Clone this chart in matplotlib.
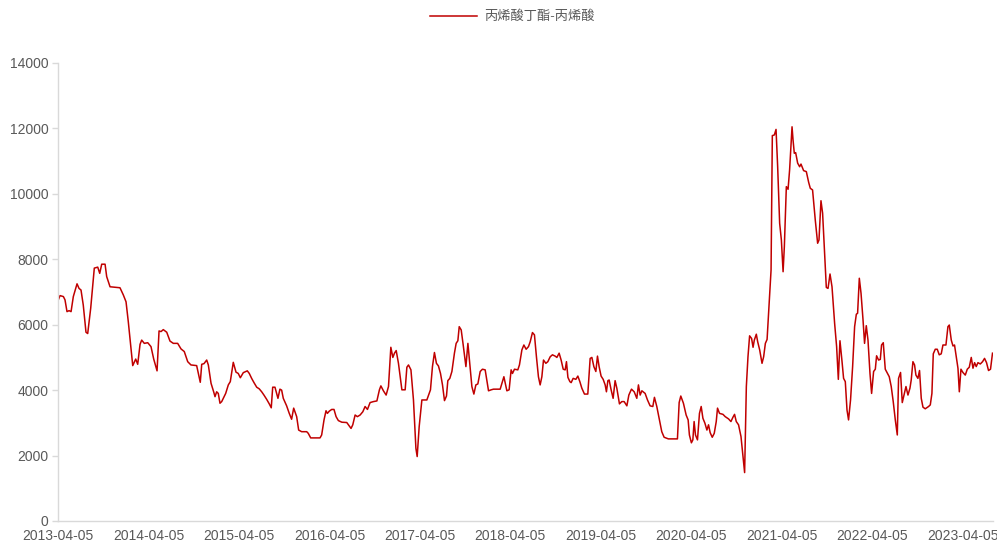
import matplotlib
matplotlib.use("Agg")
import matplotlib.pyplot as plt
import pandas as pd
import numpy as np

# Decimal-year positions of observations and the spread value (丙烯酸丁酯-丙烯酸)
years = [
 2013.261, 2013.280, 2013.317, 2013.335, 2013.357, 2013.380, 2013.402, 2013.427, 2013.468, 2013.490,
 2013.512, 2013.537, 2013.567, 2013.586, 2013.619, 2013.659, 2013.697, 2013.719, 2013.741, 2013.778,
 2013.796, 2013.833, 2013.943, 2013.980, 2014.010, 2014.035, 2014.084, 2014.117, 2014.139, 2014.165,
 2014.183, 2014.212, 2014.250, 2014.286, 2014.316, 2014.353, 2014.375, 2014.397, 2014.422, 2014.460,
 2014.496, 2014.533, 2014.581, 2014.618, 2014.654, 2014.692, 2014.728, 2014.791, 2014.831, 2014.847,
 2014.872, 2014.902, 2014.920, 2014.950, 2014.979, 2014.994, 2015.012, 2015.030, 2015.049, 2015.068,
 2015.086, 2015.112, 2015.141, 2015.163, 2015.196, 2015.226, 2015.251, 2015.274, 2015.307, 2015.351,
 2015.373, 2015.399, 2015.425, 2015.455, 2015.483, 2015.510, 2015.535, 2015.565, 2015.594, 2015.616,
 2015.632, 2015.657, 2015.690, 2015.712, 2015.731, 2015.749, 2015.786, 2015.815, 2015.841, 2015.864,
 2015.897, 2015.919, 2015.952, 2016.008, 2016.025, 2016.052, 2016.155, 2016.173, 2016.199, 2016.221,
 2016.236, 2016.258, 2016.284, 2016.309, 2016.332, 2016.357, 2016.395, 2016.450, 2016.479, 2016.497,
 2016.516, 2016.542, 2016.567, 2016.597, 2016.627, 2016.652, 2016.678, 2016.707, 2016.744, 2016.782,
 2016.810, 2016.826, 2016.854, 2016.884, 2016.910, 2016.936, 2016.958, 2016.976, 2016.995, 2017.020,
 2017.058, 2017.094, 2017.113, 2017.131, 2017.158, 2017.186, 2017.213, 2017.227, 2017.249, 2017.279,
 2017.334, 2017.374, 2017.396, 2017.418, 2017.440, 2017.462, 2017.485, 2017.507, 2017.529, 2017.551,
 2017.566, 2017.588, 2017.611, 2017.639, 2017.658, 2017.677, 2017.692, 2017.714, 2017.736, 2017.766,
 2017.788, 2017.810, 2017.832, 2017.854, 2017.876, 2017.898, 2017.924, 2017.949, 2017.979, 2018.016,
 2018.045, 2018.071, 2018.145, 2018.164, 2018.186, 2018.219, 2018.244, 2018.266, 2018.281, 2018.303,
 2018.340, 2018.358, 2018.385, 2018.407, 2018.432, 2018.458, 2018.477, 2018.502, 2018.524, 2018.546,
 2018.568, 2018.587, 2018.606, 2018.624, 2018.650, 2018.672, 2018.698, 2018.723, 2018.753, 2018.772,
 2018.797, 2018.819, 2018.842, 2018.864, 2018.878, 2018.894, 2018.916, 2018.930, 2018.952, 2018.982,
 2019.004, 2019.026, 2019.048, 2019.077, 2019.114, 2019.140, 2019.159, 2019.181, 2019.203, 2019.221,
 2019.239, 2019.261, 2019.284, 2019.306, 2019.320, 2019.336, 2019.350, 2019.372, 2019.394, 2019.416,
 2019.435, 2019.464, 2019.490, 2019.516, 2019.546, 2019.568, 2019.597, 2019.627, 2019.656, 2019.674,
 2019.693, 2019.712, 2019.748, 2019.774, 2019.803, 2019.833, 2019.851, 2019.877, 2019.906, 2019.932,
 2019.958, 2020.005, 2020.105, 2020.124, 2020.142, 2020.171, 2020.201, 2020.223, 2020.237, 2020.259,
 2020.275, 2020.289, 2020.304, 2020.326, 2020.348, 2020.367, 2020.386, 2020.408, 2020.430, 2020.448,
 2020.466, 2020.489, 2020.511, 2020.533, 2020.547, 2020.569, 2020.607, 2020.632, 2020.669, 2020.695,
 2020.717, 2020.735, 2020.754, 2020.779, 2020.806, 2020.828, 2020.846, 2020.865, 2020.883, 2020.901,
 2020.923, 2020.939, 2020.953, 2020.975, 2020.990, 2021.012, 2021.038, 2021.056, 2021.075, 2021.094,
 2021.111, 2021.138, 2021.152, 2021.174, 2021.193, 2021.211, 2021.233, 2021.252, 2021.271, 2021.285,
 2021.307, 2021.326, 2021.343, 2021.370, 2021.381, 2021.395, 2021.410, 2021.432, 2021.454, 2021.469,
 2021.498, 2021.528, 2021.554, 2021.572, 2021.597, 2021.627, 2021.653, 2021.668, 2021.690, 2021.708,
 2021.730, 2021.749, 2021.768, 2021.790, 2021.812, 2021.841, 2021.863, 2021.882, 2021.900, 2021.923,
 2021.940, 2021.959, 2021.978, 2021.995, 2022.017, 2022.040, 2022.062, 2022.081, 2022.095, 2022.114,
 2022.133, 2022.155, 2022.172, 2022.191, 2022.210, 2022.232, 2022.250, 2022.272, 2022.291, 2022.305,
 2022.327, 2022.346, 2022.360, 2022.379, 2022.401, 2022.420, 2022.445, 2022.467, 2022.489, 2022.512,
 2022.534, 2022.548, 2022.570, 2022.589, 2022.608, 2022.630, 2022.652, 2022.674, 2022.688, 2022.707,
 2022.725, 2022.740, 2022.762, 2022.780, 2022.799, 2022.818, 2022.843, 2022.880, 2022.899, 2022.917,
 2022.932, 2022.954, 2022.976, 2022.998, 2023.020, 2023.039, 2023.072, 2023.094, 2023.109, 2023.131,
 2023.150, 2023.167, 2023.186, 2023.205, 2023.220, 2023.238, 2023.260, 2023.286, 2023.308, 2023.330,
 2023.352, 2023.371, 2023.389, 2023.407, 2023.426, 2023.452, 2023.477, 2023.499, 2023.521, 2023.543,
 2023.565, 2023.587,
]

spread = [
 6760, 6890, 6860, 6760, 6400, 6430, 6400, 6860, 7250, 7110,
 7060, 6600, 5770, 5730, 6500, 7730, 7760, 7570, 7850, 7850,
 7470, 7160, 7130, 6910, 6700, 6090, 4750, 4950, 4790, 5400,
 5530, 5430, 5450, 5330, 4950, 4590, 5810, 5790, 5850, 5770,
 5500, 5430, 5430, 5260, 5180, 4870, 4770, 4750, 4240, 4790,
 4810, 4920, 4770, 4210, 3950, 3800, 3950, 3900, 3600, 3650,
 3750, 3900, 4160, 4260, 4850, 4550, 4510, 4380, 4535, 4590,
 4510, 4360, 4230, 4090, 4040, 3950, 3850, 3720, 3580, 3460,
 4090, 4090, 3750, 4030, 4000, 3750, 3520, 3290, 3110, 3450,
 3190, 2780, 2730, 2730, 2680, 2540, 2540, 2630, 3090, 3370,
 3290, 3360, 3410, 3410, 3190, 3070, 3020, 3010, 2900, 2830,
 2940, 3240, 3190, 3240, 3340, 3500, 3410, 3620, 3650, 3670,
 4010, 4130, 3980, 3850, 4110, 5310, 5000, 5130, 5210, 4820,
 4010, 4010, 4700, 4770, 4620, 3700, 2220, 1970, 2880, 3700,
 3700, 4010, 4720, 5150, 4820, 4740, 4510, 4160, 3680, 3820,
 4290, 4360, 4570, 5130, 5430, 5510, 5940, 5840, 5380, 4720,
 5430, 4770, 4110, 3880, 4160, 4190, 4570, 4640, 4620, 3980,
 4010, 4030, 4030, 4210, 4410, 3980, 4010, 4620, 4510, 4640,
 4620, 4770, 5230, 5380, 5250, 5330, 5480, 5760, 5690, 5020,
 4410, 4160, 4410, 4920, 4820, 4870, 5020, 5080, 5040, 5000,
 5130, 4920, 4640, 4620, 4870, 4390, 4260, 4230, 4360, 4330,
 4430, 4260, 4060, 3880, 3880, 4970, 5000, 4720, 4570, 5040,
 4720, 4430, 4330, 4160, 3950, 4290, 4310, 4010, 3750, 4290,
 4060, 3580, 3650, 3650, 3520, 3850, 4030, 3950, 3750, 4160,
 3850, 3980, 3900, 3700, 3520, 3500, 3780, 3500, 3090, 2730,
 2560, 2510, 2510, 3620, 3820, 3600, 3240, 3090, 2630, 2390,
 2480, 3040, 2630, 2480, 3290, 3500, 3140, 2990, 2780, 2940,
 2700, 2560, 2680, 3040, 3450, 3290, 3260, 3190, 3120, 3040,
 3170, 3260, 3040, 2940, 2580, 1970, 1480, 4110, 5020, 5660,
 5580, 5310, 5530, 5710, 5480, 5230, 4820, 5020, 5430, 5550,
 6350, 7670, 11780, 11800, 11970, 10830, 9100, 8590, 7620, 8390,
 10220, 10140, 10730, 12050, 11650, 11240, 11260, 10940, 10830, 10910,
 10710, 10680, 10350, 10170, 10120, 9200, 8490, 8590, 9790, 9410,
 8180, 7140, 7110, 7550, 7160, 6040, 5330, 4330, 5510, 4870,
 4360, 4260, 3390, 3090, 3700, 4720, 5940, 6320, 6350, 7420,
 6960, 6150, 5430, 5970, 5530, 4510, 3900, 4570, 4640, 5050,
 4920, 4940, 5380, 5450, 4640, 4540, 4410, 4110, 3650, 3090,
 2630, 4360, 4540, 3620, 3850, 4110, 3850, 4060, 4310, 4870,
 4770, 4460, 4360, 4600, 3750, 3480, 3430, 3500, 3550, 3900,
 5110, 5250, 5250, 5080, 5110, 5380, 5380, 5940, 5990, 5530,
 5350, 5380, 5020, 4670, 3950, 4640, 4540, 4460, 4640, 4700,
 5000, 4670, 4840, 4720, 4840, 4800, 4870, 4970, 4840, 4600,
 4640, 5130,
]

tick_labels = ["2013-04-05", "2014-04-05", "2015-04-05", "2016-04-05", "2017-04-05",
               "2018-04-05", "2019-04-05", "2020-04-05", "2021-04-05", "2022-04-05",
               "2023-04-05"]
y_ticks = [0, 2000, 4000, 6000, 8000, 10000, 12000, 14000]
series_name = "丙烯酸丁酯-丙烯酸"


def to_date(y):
    yr = int(y)
    start = pd.Timestamp(yr, 1, 1)
    n = (pd.Timestamp(yr + 1, 1, 1) - start).days
    return start + pd.Timedelta(days=(y - yr) * n)


dates = [to_date(y) for y in years]
tick_dates = [pd.Timestamp(s) for s in tick_labels]

plt.rcParams['font.family'] = ['Liberation Sans', 'Noto Sans CJK SC', 'DejaVu Sans']

fig = plt.figure(figsize=(9.97, 5.43), dpi=100)
ax = fig.add_axes([58 / 997, 1 - 521 / 543, (993 - 58) / 997, (521 - 63) / 543])

line, = ax.plot(dates, spread, color="#C00000", linewidth=1.1, label=series_name)

ax.set_ylim(0, 14000)
ax.set_yticks(y_ticks)
ax.set_yticklabels([str(v) for v in y_ticks])
ax.set_xlim(tick_dates[0], dates[-1] + pd.Timedelta(days=2))
ax.set_xticks(tick_dates)
ax.set_xticklabels(tick_labels)

for s in ["top", "right"]:
    ax.spines[s].set_visible(False)
ax.spines["left"].set_color("#d9d9d9")
ax.spines["bottom"].set_color("#d9d9d9")
ax.spines["left"].set_linewidth(1.0)
ax.spines["bottom"].set_linewidth(1.0)

ax.tick_params(axis="y", colors="#595959", labelsize=10, length=4, width=1.0,
               direction="out", pad=3)
ax.tick_params(axis="y", color="#d9d9d9")
ax.tick_params(axis="x", colors="#595959", labelsize=10, length=0, pad=6)

fig.legend(handles=[line], labels=[series_name], loc="center",
           bbox_to_anchor=(512 / 997, 1 - 17 / 543), frameon=False,
           fontsize=9.5, handlelength=3.6, handletextpad=0.5,
           labelcolor="#595959")

fig.savefig("out.png", dpi=100)
